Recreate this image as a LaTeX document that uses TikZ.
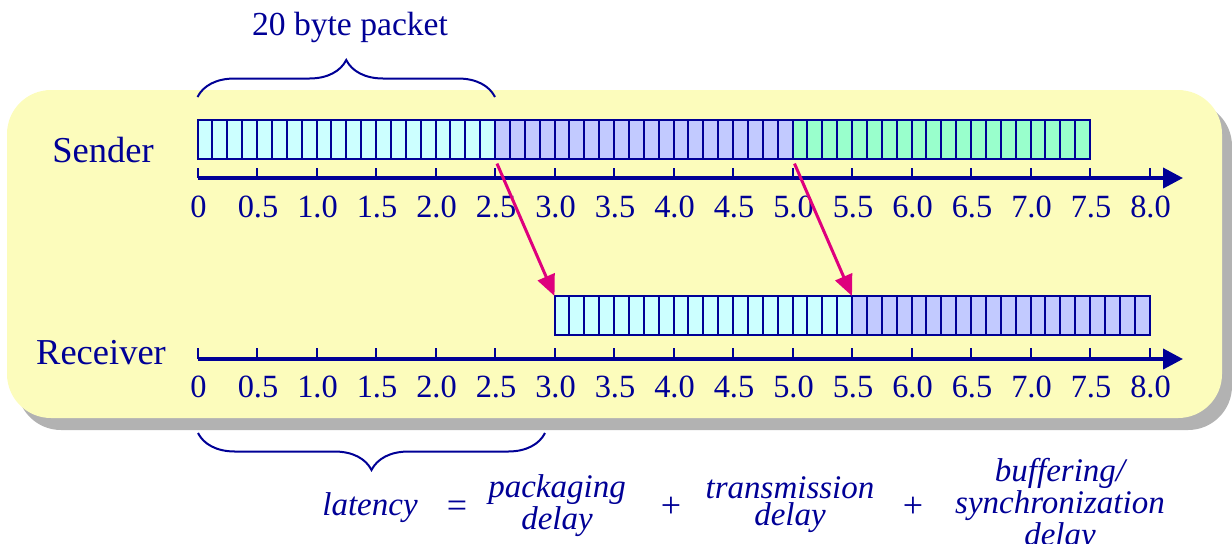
\documentclass[tikz,border=0pt]{standalone}
\usepackage{fontspec}
\setmainfont{Liberation Serif}
\usetikzlibrary{
        arrows.meta,
        calc,
        decorations.pathreplacing,
        positioning
    }
\definecolor{navy}{RGB}{0,0,150}
\definecolor{panelyellow}{RGB}{252,252,188}
\definecolor{panelshadow}{RGB}{178,178,178}
\definecolor{bytecyan}{RGB}{204,255,255}
\definecolor{bytelilac}{RGB}{194,202,255}
\definecolor{bytegreen}{RGB}{153,255,204}
\definecolor{hopcolor}{RGB}{222,0,125}
\tikzset{>={Triangle[length=10pt,width=10pt]}}
\tikzset{
    packet/.style={draw=navy,line width=1pt,minimum width=148.75pt,minimum height=19.5pt,inner sep=0pt,outer sep=0pt},
    divider/.style={draw=navy,line width=1pt},
    axis/.style={draw=navy,line width=2pt},
    tickmark/.style={draw=navy,line width=1pt},
    ticklabel/.style={text=navy,font=\fontsize{16.2}{18}\selectfont,inner sep=0pt},
    sidelabel/.style={text=navy,font=\fontsize{18.25}{22}\selectfont,inner sep=0pt},
    brace/.style={draw=navy,line width=1pt,decorate,decoration={brace,amplitude=18.5pt}},
    hop/.style={draw=hopcolor,line width=1.5pt,-{Triangle[length=10.5pt,width=9pt]},shorten <=2.5pt},
    term/.style={text=navy,font=\fontsize{16.5}{13.5}\selectfont\itshape,align=center,inner sep=0pt},
    op/.style={text=navy,font=\fontsize{18}{20}\selectfont,inner sep=0pt,anchor=base}
}
\begin{document}
\begin{tikzpicture}[x=0.5pt,y=-0.5pt]
    \useasboundingbox (0,0) rectangle (1232,543);
    % panel
    \fill[panelshadow,rounded corners=22pt] (17,102) rectangle (1232,430);
    \fill[panelyellow,rounded corners=22pt] (7,90) rectangle (1222,418);
    % packets
    \node[packet,fill=bytecyan,anchor=north west] (sp1) at (197.5,120) {};
    \node[packet,fill=bytelilac,right=0pt of sp1] (sp2) {};
    \node[packet,fill=bytegreen,right=0pt of sp2] (sp3) {};
    \node[packet,fill=bytecyan,anchor=north west] (rp1) at (554.5,296) {};
    \node[packet,fill=bytelilac,right=0pt of rp1] (rp2) {};
    \foreach \p in {sp1,sp2,sp3,rp1,rp2}
        \foreach \i in {1,...,19}
            \draw[divider] ($(\p.north west)!\i/20!(\p.north east)$) -- ($(\p.south west)!\i/20!(\p.south east)$);
    % time axes
    \coordinate (sorigin) at (197.5,178);
    \coordinate (send) at (1183,178);
    \coordinate (rorigin) at (197.5,359);
    \coordinate (rend) at (1183,359);
    \draw[axis,->] (sorigin) -- (send);
    \draw[axis,->] (rorigin) -- (rend);
    \foreach \lab [count=\i from 0] in {0,0.5,1.0,1.5,2.0,2.5,3.0,3.5,4.0,4.5,5.0,5.5,6.0,6.5,7.0,7.5,8.0} {
        \pgfmathsetmacro\xx{197.5+59.5*\i}
        \draw[tickmark] (\xx,178) -- (\xx,168);
        \draw[tickmark] (\xx,359) -- (\xx,348);
        \node[ticklabel] (sl\i) at (\xx+1,207) {\lab};
        \node[ticklabel] (rl\i) at (\xx+1,387) {\lab};
    }
    \node[sidelabel] (sender) at (103,150) {Sender};
    \node[sidelabel] (receiver) at (101,353) {Receiver};
    % transfers
    \draw[hop] (sp1.south east) -- (rp1.north west);
    \draw[hop] (sp2.south east) -- (rp2.north west);
    % braces
    \draw[brace] ([yshift=11.5pt]sp1.north west) -- ([yshift=11.5pt]sp1.north east);
    \node[text=navy,font=\fontsize{16.8}{20}\selectfont,inner sep=0pt] (pktlabel) at (350,27) {20 byte packet};
    \coordinate (lat0) at (198,433);
    \coordinate (lat1) at (545,433);
    \draw[brace,decoration={brace,mirror,amplitude=18.5pt}] (lat0) -- (lat1);
    % latency sum
    \node[term,anchor=base] (latency) at (370,515) {latency};
    \node[op] (equals) at (457,517) {=};
    \node[term] (pkgdelay) at (557,506) {packaging\\delay};
    \node[op] (plus1) at (671,517) {+};
    \node[term] (trdelay) at (790,505) {transmission\\delay};
    \node[op] (plus2) at (913,517) {+};
    \node[term] (bufdelay) at (1060,505) {buffering/\\synchronization\\delay};
\end{tikzpicture}
\end{document}
